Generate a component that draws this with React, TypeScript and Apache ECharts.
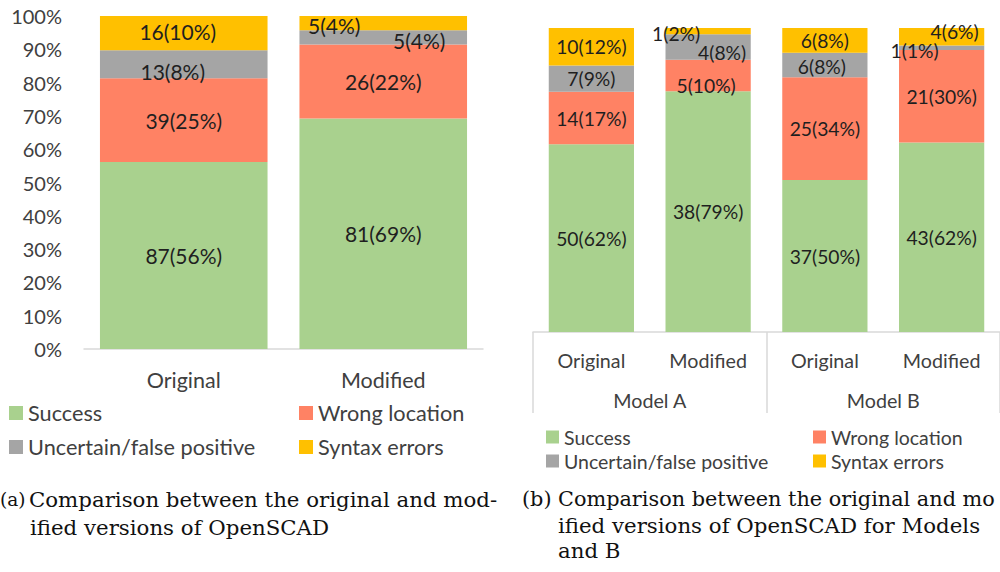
import React, { useEffect, useRef } from "react";
import * as echarts from "echarts";

// ---------- data ----------
const seriesNames = ["Success", "Wrong location", "Uncertain/false positive", "Syntax errors"];

// (a) OpenSCAD original vs modified (counts)
const catsA = ["Original", "Modified"];
const successA = [87, 81];
const wrongA = [39, 26];
const uncertainA = [13, 5];
const syntaxA = [16, 5];

// (b) Models A and B (counts)
const catsB = ["Original", "Modified", "Original", "Modified"];
const groupsB = ["Model A", "Model B"];
const successB = [50, 38, 37, 43];
const wrongB = [14, 5, 25, 21];
const uncertainB = [7, 4, 6, 1];
const syntaxB = [10, 1, 6, 4];

const captionA = ["Comparison between the original and mod-", "ified versions of OpenSCAD"];
const captionB = [
  "Comparison between the original and mo",
  "ified versions of OpenSCAD for Models",
  "and B",
];

// ---------- styles ----------
const colors = ["#A9D18E", "#FF8264", "#A5A5A5", "#FFC000"];
const axisGray = "#D9D9D9";
const textGray = "#404040";
const labelColor = "#1F1F1F";
const sansFont = "Lato";
const serifFont = "DejaVu Serif";

// label offsets per [series][category] (styling only)
const offsetsA = [
  [[0, 0], [0, 0]],
  [[0, 0], [0, 0]],
  [[-11, 7], [36, 3]],
  [[-6, -2], [-49, 2]],
];
const offsetsB = [
  [[0, 0], [0, 0], [0, 0], [0, 0]],
  [[0, 0], [-2, 10], [0, 0], [0, 0]],
  [[0, 0], [14, 5], [-3, 2], [-27, 3]],
  [[0, 0], [-32, 2], [0, 0], [13, -5]],
];

function buildSeries(
  counts: number[][],
  gridIdx: number,
  stack: string,
  offsets: number[][][],
  fontSize: number,
  barWidth: string
) {
  const totals = counts[0].map((_, i) => counts.reduce((s, c) => s + c[i], 0));
  return counts.map((c, si) => ({
    name: seriesNames[si],
    type: "bar",
    stack,
    xAxisIndex: gridIdx === 0 ? 0 : 1,
    yAxisIndex: gridIdx,
    barWidth,
    itemStyle: { color: colors[si] },
    data: c.map((v, i) => ({
      value: (v / totals[i]) * 100,
      label: { offset: offsets[si][i] },
    })),
    label: {
      show: true,
      position: "inside",
      fontFamily: sansFont,
      fontSize,
      color: labelColor,
      formatter: (p: any) =>
        `${c[p.dataIndex]}(${Math.round((c[p.dataIndex] / totals[p.dataIndex]) * 100)}%)`,
    },
  }));
}

function legendItem(name: string, left: number, top: number, size: number, fontSize: number) {
  return {
    data: [name],
    left,
    top,
    padding: 0,
    icon: "rect",
    itemWidth: size,
    itemHeight: size,
    selectedMode: false,
    textStyle: { fontFamily: sansFont, fontSize, color: textGray, lineHeight: fontSize },
  };
}

export default function App() {
  const ref = useRef<HTMLDivElement>(null);

  useEffect(() => {
    document.body.style.margin = "0";
    if (!ref.current) return;
    const chart = echarts.init(ref.current, undefined, { renderer: "svg" });

    const seriesA = buildSeries([successA, wrongA, uncertainA, syntaxA], 0, "a", offsetsA, 21, "84%");
    const seriesB = buildSeries([successB, wrongB, uncertainB, syntaxB], 1, "b", offsetsB, 19.3, "73%");

    const captionStyle = { fontFamily: serifFont, fontSize: 21.3, fill: "#111" };
    const captionStyleB = { ...captionStyle, fontSize: 20.8 };

    chart.setOption({
      animation: false,
      backgroundColor: "#ffffff",
      grid: [
        { left: 84, right: 517, top: 16, bottom: 223 },
        { left: 533, right: -9, top: 28, bottom: 240 },
      ],
      xAxis: [
        {
          type: "category",
          gridIndex: 0,
          data: catsA,
          axisLine: { lineStyle: { color: axisGray, width: 1.5 } },
          axisTick: { show: false },
          axisLabel: { fontFamily: sansFont, fontSize: 21.5, color: textGray, margin: 20 },
        },
        {
          type: "category",
          gridIndex: 1,
          data: catsB,
          position: "bottom",
          axisLine: { lineStyle: { color: axisGray, width: 1.5 } },
          axisTick: { show: false },
          axisLabel: { fontFamily: sansFont, fontSize: 19.7, color: textGray, margin: 18, interval: 0 },
        },
        {
          type: "category",
          gridIndex: 1,
          data: groupsB,
          position: "bottom",
          offset: 0,
          axisLine: { show: false },
          axisTick: { show: true, length: 81, lineStyle: { color: axisGray, width: 1.5 } },
          axisLabel: { fontFamily: sansFont, fontSize: 19.7, color: textGray, margin: 58, interval: 0 },
        },
      ],
      yAxis: [
        {
          type: "value",
          gridIndex: 0,
          min: 0,
          max: 100,
          interval: 10,
          axisLine: { show: false },
          axisTick: { show: false },
          splitLine: { show: false },
          axisLabel: { formatter: "{value}%", fontFamily: sansFont, fontSize: 20, color: textGray, margin: 22 },
        },
        { type: "value", gridIndex: 1, min: 0, max: 100, show: false, splitLine: { show: false } },
      ],
      legend: [
        legendItem(seriesNames[0], 9, 402, 14, 21.7),
        legendItem(seriesNames[1], 299, 402, 14, 21.7),
        legendItem(seriesNames[2], 9, 436, 14, 21.7),
        legendItem(seriesNames[3], 299, 436, 14, 21.7),
        legendItem(seriesNames[0], 546, 427, 13, 19.5),
        legendItem(seriesNames[1], 813, 427, 13, 19.5),
        legendItem(seriesNames[2], 546, 451, 13, 19.5),
        legendItem(seriesNames[3], 813, 451, 13, 19.5),
      ],
      graphic: [
        { type: "text", x: 0, y: 499, style: { ...captionStyle, fontSize: 18.5, text: "(a)", verticalAlign: "middle" } },
        { type: "text", x: 29, y: 499, style: { ...captionStyle, text: captionA[0], verticalAlign: "middle" } },
        { type: "text", x: 30, y: 527, style: { ...captionStyle, text: captionA[1], verticalAlign: "middle" } },
        { type: "text", x: 522, y: 499, style: { ...captionStyleB, text: "(b)", verticalAlign: "middle" } },
        { type: "text", x: 558, y: 499, style: { ...captionStyleB, text: captionB[0], verticalAlign: "middle" } },
        { type: "text", x: 558, y: 525, style: { ...captionStyle, text: captionB[1], verticalAlign: "middle" } },
        { type: "text", x: 558, y: 550, style: { ...captionStyle, text: captionB[2], verticalAlign: "middle" } },
      ],
      series: [...seriesA, ...seriesB],
    });

    return () => chart.dispose();
  }, []);

  return <div ref={ref} style={{ width: 1000, height: 572 }} />;
}
